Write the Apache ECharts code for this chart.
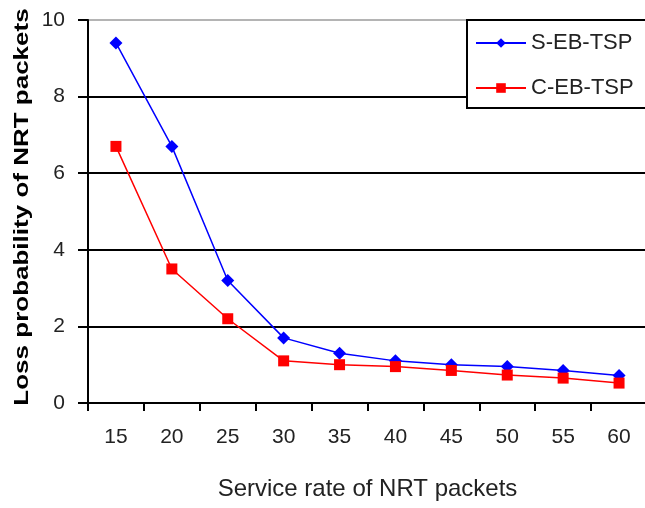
<!DOCTYPE html>
<html><head><meta charset="utf-8">
<script src="https://cdn.jsdelivr.net/npm/echarts@6/dist/echarts.min.js"></script>
<style>html,body{margin:0;padding:0;background:#fff}#c{width:645px;height:508px}</style>
</head><body><div id="c"></div>
<script>
const categories = ['15','20','25','30','35','40','45','50','55','60'];
const sebtsp = [9.4, 6.7, 3.2, 1.7, 1.3, 1.1, 1.0, 0.95, 0.85, 0.72];
const cebtsp = [6.7, 3.5, 2.2, 1.1, 1.0, 0.95, 0.85, 0.73, 0.65, 0.52];
const yTicks = [0, 2, 4, 6, 8, 10];
const FONT = 'Liberation Sans, Arial, sans-serif';

const chart = echarts.init(document.getElementById('c'), null, {renderer: 'canvas'});
chart.setOption({
  animation: false,
  backgroundColor: '#fff',
  grid: {left: 88, right: -2, top: 20, bottom: 105, outerBoundsMode: 'none', containLabel: false},
  legend: {
    left: 467, top: 20,
    orient: 'vertical',
    backgroundColor: '#fff',
    borderColor: '#000', borderWidth: 2, borderRadius: 0,
    padding: [12, 40, 9, 8],
    itemGap: 23,
    itemWidth: 50, itemHeight: 12,
    textStyle: {fontFamily: FONT, fontSize: 22, color: '#222'},
    data: ['S-EB-TSP', 'C-EB-TSP']
  },
  graphic: [{
    type: 'text', x: 22, y: 207, rotation: Math.PI / 2, scaleX: 1.3,
    style: {text: 'Loss probability of NRT packets', font: 'bold 20px ' + FONT,
      fill: '#000', align: 'center', verticalAlign: 'middle'}
  }],
  xAxis: {
    type: 'category', data: categories, boundaryGap: true,
    name: 'Service rate of NRT packets', nameLocation: 'middle', nameGap: 74,
    nameTextStyle: {fontFamily: FONT, fontSize: 24, color: '#222'},
    axisLine: {lineStyle: {color: '#000', width: 2}},
    axisTick: {show: true, length: 8, lineStyle: {color: '#000', width: 2}},
    axisLabel: {margin: 24, fontFamily: FONT, fontSize: 21, color: '#222'},
    splitLine: {show: false}
  },
  yAxis: {
    type: 'value', min: 0, max: 10, interval: 2,
    axisLine: {show: true, lineStyle: {color: '#000', width: 2}},
    axisTick: {show: true, length: 10, lineStyle: {color: '#000', width: 2}},
    axisLabel: {margin: 23, fontFamily: FONT, fontSize: 21, color: '#222',
      formatter: v => yTicks.includes(v) ? String(v) : ''},
    splitLine: {show: true, lineStyle: {color: ['#000', '#000', '#000', '#000', '#000', '#b4b4b4'], width: 2}}
  },
  series: [
    {name: 'S-EB-TSP', type: 'line', data: sebtsp, color: '#0000ff',
     symbol: 'diamond', symbolSize: 13, lineStyle: {width: 1.5, color: '#0000ff'},
     itemStyle: {color: '#0000ff'}},
    {name: 'C-EB-TSP', type: 'line', data: cebtsp, color: '#ff0000',
     symbol: 'rect', symbolSize: 11, lineStyle: {width: 1.5, color: '#ff0000'},
     itemStyle: {color: '#ff0000'}}
  ]
});
</script></body></html>
